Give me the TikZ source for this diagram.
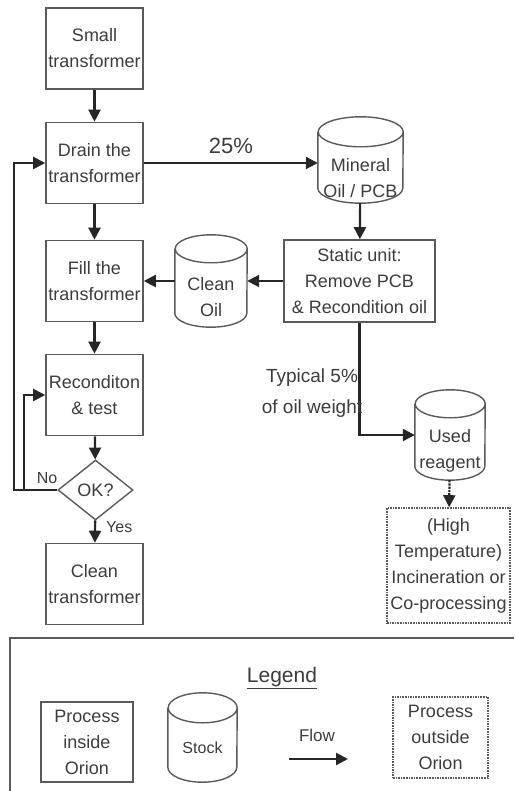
\documentclass[tikz,border=0pt]{standalone}
\usepackage{fontspec}
\setmainfont{Liberation Sans}
\usetikzlibrary{shapes.geometric, arrows.meta, positioning}
\definecolor{boxgray}{HTML}{5a5a5a}
\definecolor{textgray}{HTML}{3c3c3c}

% outline of a stock (cylinder) round a named rectangle node
% #1 node name, #2 half width, #3 radius of the end ellipse
\newcommand{\drawstock}[3]{%
	\draw[boxgray, line width=1.4pt]
		([yshift=-#3]#1.north west) -- ([yshift=#3]#1.south west)
		arc[start angle=180, end angle=360, x radius=#2, y radius=#3]
		-- ([yshift=-#3]#1.north east)
		arc[start angle=0, end angle=180, x radius=#2, y radius=#3]
		arc[start angle=180, end angle=360, x radius=#2, y radius=#3];}

\begin{document}
\begin{tikzpicture}[x=1pt, y=-1pt,
	every node/.style={text=textgray, align=center, inner sep=0pt,
		font=\fontsize{18}{26}\selectfont},
	procbox/.style={draw=boxgray, line width=1.6pt, minimum width=97pt, minimum height=81pt},
	outbox/.style={draw=boxgray, line width=1.6pt, densely dotted},
	stockbox/.style={rectangle, draw=none},
	stocktext/.style={yshift=-#1},
	flowarrow/.style={-{Triangle[length=12pt, width=12pt]}, line width=2.2pt, draw=black!85},
	]
	\useasboundingbox (0,0) rectangle (514,791);

	% main line
	\node[procbox] (small) at (94.5,48.5) {Small\\transformer};
	\node[procbox] (drain) at (94.5,163) {Drain the\\transformer};
	\node[procbox] (fill) at (94.5,281) {Fill the\\transformer};
	\node[procbox] (recon) at (94.5,395) {Reconditon\\\& test};
	\node[diamond, draw=boxgray, line width=1.4pt, minimum width=75pt, minimum height=60pt]
		(ok) at (95.5,490) {OK?};
	\node[procbox] (cleant) at (94.5,584) {Clean\\transformer};

	% oil treatment
	\node[stockbox, minimum width=85pt, minimum height=86pt,
		label={[stocktext=18pt]center:Mineral\\Oil / PCB}] (mineral) at (360.5,160) {};
	\drawstock{mineral}{42.5pt}{15pt}
	\node[procbox, minimum width=151pt, minimum height=82pt] (static) at (359.5,281)
		{Static unit:\\Remove PCB\\\& Recondition oil};
	\node[stockbox, minimum width=72pt, minimum height=92pt,
		label={[stocktext=16pt]center:Clean\\Oil}] (cleanoil) at (211,281) {};
	\drawstock{cleanoil}{36pt}{14pt}
	\node[stockbox, minimum width=70pt, minimum height=90pt,
		label={[stocktext=16pt]center:Used\\reagent}] (used) at (450,435) {};
	\drawstock{used}{35pt}{14pt}
	\node[outbox, minimum width=123pt, minimum height=115pt] (incin) at (448.5,565.5)
		{(High\\Temperature)\\Incineration or\\Co-processing};

	\draw[flowarrow] (small) -- (drain);
	\draw[flowarrow] (drain) -- (fill);
	\draw[flowarrow] (fill) -- (recon);
	\draw[flowarrow] (recon) -- (ok);
	\draw[flowarrow] (ok) -- node[right=10pt, pos=0.3, font=\fontsize{16}{18}\selectfont] {Yes} (cleant);
	\draw[flowarrow] (drain.east) -- node[above=8pt, font=\fontsize{22}{24}\selectfont] {25\%} (drain.east -| mineral.west);
	\draw[flowarrow] (mineral) -- (static);
	\draw[flowarrow] (static) -- (cleanoil);
	\draw[flowarrow] (cleanoil) -- (fill);
	\draw[flowarrow] (ok.west) -- ++(-43,0) |- (drain.west);
	\draw[flowarrow] (ok.west) -- ++(-33,0) |- (recon.west);
	\node[font=\fontsize{16}{18}\selectfont] (nolabel) at (47,478) {No};
	\draw[flowarrow] (static.south) |- (used.west);
	\node[font=\fontsize{19}{31}\selectfont] (typical) at (312,393) {Typical 5\%\\of oil weight};
	\draw[flowarrow, densely dotted] (used) -- (incin);

	% legend
	\draw[line width=2.6pt, draw=boxgray] (514,638) -| (10,791);
	\node[font=\fontsize{21}{24}\selectfont] (legend) at (282,678) {\underline{Legend}};
	\node[procbox, minimum width=92pt, minimum height=80pt] (procin) at (87,742) {Process\\inside\\Orion};
	\node[stockbox, minimum width=69pt, minimum height=89pt,
		label={[stocktext=10pt, font=\fontsize{16}{18}\selectfont]center:Stock}] (stock) at (202.5,737.5) {};
	\drawstock{stock}{34.5pt}{15pt}
	\node[font=\fontsize{17}{20}\selectfont] (flowlabel) at (317,735) {Flow};
	\coordinate (flowa) at (289,759);
	\coordinate (flowb) at (348,759);
	\draw[flowarrow] (flowa) -- (flowb);
	\node[outbox, minimum width=95pt, minimum height=81pt] (procout) at (440.5,737.5)
		{Process\\outside\\Orion};
\end{tikzpicture}
\end{document}
